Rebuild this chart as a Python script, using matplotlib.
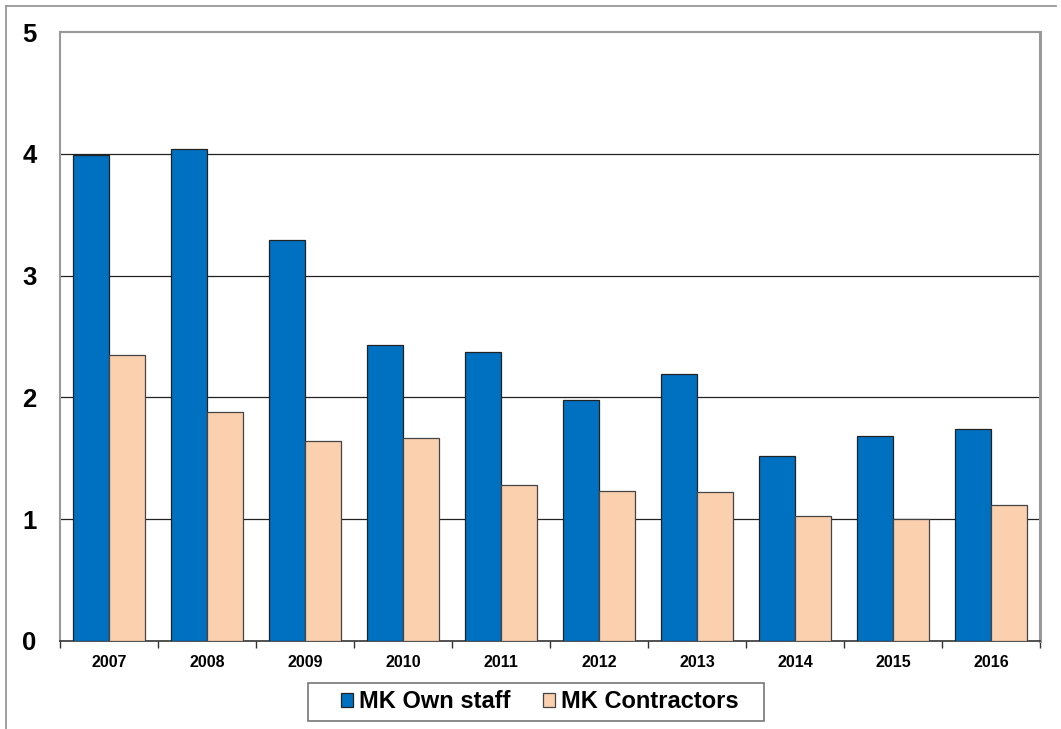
import matplotlib
matplotlib.use("Agg")
import matplotlib.pyplot as plt
import numpy as np
from matplotlib.lines import Line2D
from matplotlib.patches import Rectangle

plt.rcParams['font.family'] = ['Liberation Sans', 'DejaVu Sans']

years = ["2007", "2008", "2009", "2010", "2011", "2012", "2013", "2014", "2015", "2016"]
own_staff = [3.99, 4.04, 3.29, 2.43, 2.37, 1.98, 2.19, 1.52, 1.68, 1.74]
contractors = [2.35, 1.88, 1.64, 1.67, 1.28, 1.23, 1.22, 1.03, 1.00, 1.12]
series_names = ["MK Own staff", "MK Contractors"]
y_ticks = [0, 1, 2, 3, 4, 5]

blue = "#0070C0"
peach = "#FBD0AE"

W, H = 1061, 729
fig = plt.figure(figsize=(W / 100, H / 100), dpi=100)
ax = fig.add_axes([60 / W, 88 / H, 980 / W, 609 / H])

x = np.arange(len(years))
w = 0.367
ax.bar(x - w / 2, own_staff, width=w, color=blue, edgecolor="#222222",
       linewidth=0.9, label=series_names[0], zorder=3)
ax.bar(x + w / 2, contractors, width=w, color=peach, edgecolor="#444444",
       linewidth=0.9, label=series_names[1], zorder=3)

ax.set_xlim(-0.5, len(years) - 0.5)
ax.set_ylim(0, 5)
ax.set_yticks(y_ticks)
ax.set_yticklabels([str(t) for t in y_ticks], fontsize=18.5, fontweight="bold")
ax.tick_params(axis="y", length=0, pad=17)

ax.set_xticks(x)
ax.set_xticklabels(years, fontsize=11.5, fontweight="bold")
ax.tick_params(axis="x", length=0, pad=10)
ax.set_xticks(np.arange(len(years) + 1) - 0.5, minor=True)
ax.tick_params(axis="x", which="minor", length=5, width=1, color="#333333")

for t in y_ticks[1:-1]:
    ax.axhline(t, color="#222222", linewidth=0.9, zorder=1)

for side in ("top", "left", "right"):
    ax.spines[side].set_color("#999999")
ax.spines["top"].set_linewidth(1.5)
ax.spines["left"].set_linewidth(1.5)
ax.spines["right"].set_linewidth(2.2)
ax.spines["bottom"].set_color("#333333")
ax.spines["bottom"].set_linewidth(1.2)

# outer chart-area frame (top and left edges)
fig.add_artist(Line2D([6 / W, 1056 / W], [1 - 6 / H, 1 - 6 / H],
                      transform=fig.transFigure, color="#999999", linewidth=1.3))
fig.add_artist(Line2D([6 / W, 6 / W], [0, 1 - 6 / H],
                      transform=fig.transFigure, color="#999999", linewidth=1.3))

# legend entries, with a wider box drawn around them
leg = fig.legend(loc="center", bbox_to_anchor=(540 / W, 1 - 702 / H),
                 ncol=2, frameon=False,
                 prop={"size": 17, "weight": "bold"}, handlelength=0.5,
                 handleheight=0.5, handletextpad=0.25, columnspacing=1.4,
                 borderpad=0.3, borderaxespad=0)
fig.add_artist(Rectangle((308 / W, 1 - 721 / H), 456 / W, 38 / H,
                         transform=fig.transFigure, fill=False,
                         edgecolor="#777777", linewidth=1.2))

fig.savefig("out.png", dpi=100)
